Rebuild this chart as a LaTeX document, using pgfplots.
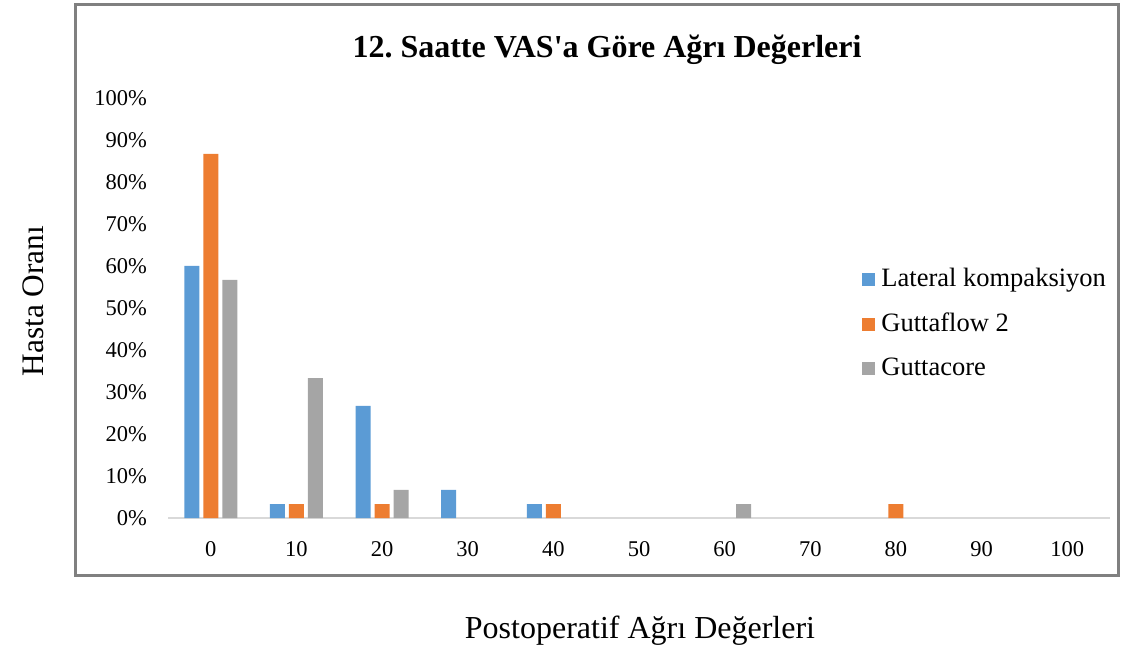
\documentclass[border=0pt]{standalone}
\usepackage{pgfplots}
\pgfplotsset{compat=1.18}
\usepackage{fontspec}
\setmainfont{Liberation Serif}[Ligatures=TeXOff]
\frenchspacing
\definecolor{cblue}{HTML}{5B9BD5}
\definecolor{corange}{HTML}{ED7D31}
\definecolor{cgray}{HTML}{A5A5A5}
\definecolor{frame}{HTML}{808080}
\definecolor{baseln}{HTML}{D9D9D9}
\begin{document}
\begin{tikzpicture}[x=1pt,y=1pt]
\path[use as bounding box] (0,0) rectangle (1128,646);
\draw[color=frame, line width=3pt] (75,71) rectangle (1118,641);
\begin{axis}[
  at={(168pt,128pt)}, anchor=south west,
  scale only axis, width=942pt, height=420pt,
  xmin=-0.5, xmax=10.5, ymin=0, ymax=100,
  ybar, bar width=15pt,
  axis x line*=bottom, axis y line*=left,
  x axis line style={draw=baseln, line width=1.5pt, -},
  y axis line style={draw=none},
  tick style={draw=none},
  xtick={0,1,2,3,4,5,6,7,8,9,10},
  xticklabels={0,10,20,30,40,50,60,70,80,90,100},
  ytick={0,10,...,100},
  yticklabel={\pgfmathprintnumber{\tick}\%},
  /pgf/number format/assume math mode=true,
  ticklabel style={font=\fontsize{22.5}{22.5}\selectfont, inner sep=0pt},
  yticklabel style={anchor=east, xshift=-21pt},
  xticklabel style={anchor=north, yshift=-19pt},
  legend cell align=left,
  legend style={at={(0.737,0.595)}, anchor=north west, draw=none, fill=none,
    inner sep=0pt, row sep=21.8pt,
    font=\fontsize{26.5}{26.5}\selectfont,
    nodes={inner sep=0pt, text height=18pt, text depth=5pt},
    /tikz/every odd column/.style={column sep=6pt}},
  legend image code/.code={\fill[#1] (0pt,-6pt) rectangle (13pt,7pt);},
]
\addplot[fill=cblue, draw=none, bar shift=-19pt] coordinates {(0,60) (1,3.33) (2,26.67) (3,6.67) (4,3.33)};
\addplot[fill=corange, draw=none, bar shift=0pt] coordinates {(0,86.67) (1,3.33) (2,3.33) (4,3.33) (8,3.33)};
\addplot[fill=cgray, draw=none, bar shift=19pt] coordinates {(0,56.67) (1,33.33) (2,6.67) (6,3.33)};
\legend{Lateral kompaksiyon, Guttaflow 2, Guttacore}
\end{axis}
\node[font=\fontsize{32}{32}\selectfont\bfseries] at (607,596) {12. Saatte VAS'a Göre Ağrı Değerleri};
\node[font=\fontsize{31.3}{31.3}\selectfont, rotate=90] at (33,345) {Hasta Oranı};
\node[font=\fontsize{32}{32}\selectfont] at (640,15) {Postoperatif Ağrı Değerleri};
\end{tikzpicture}
\end{document}
